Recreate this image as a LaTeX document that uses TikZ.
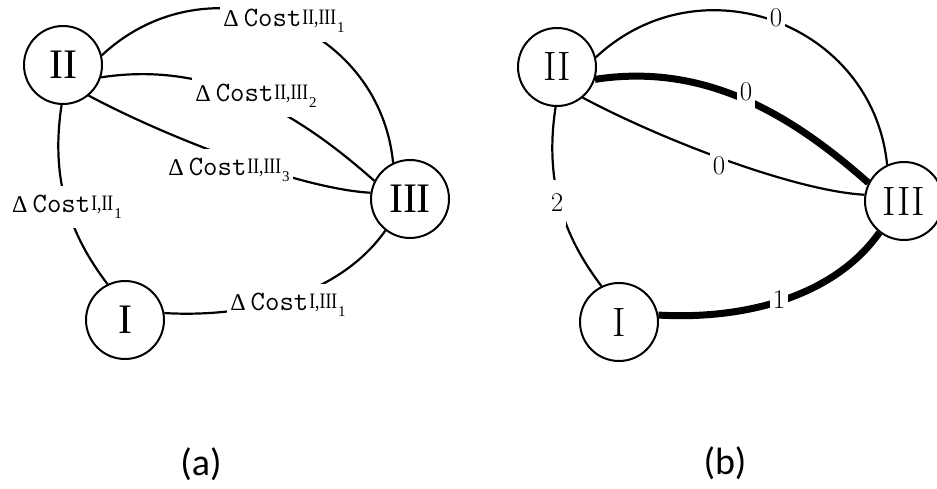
\documentclass[tikz,border=0pt]{standalone}
\usepackage{fontspec}
\usepackage{graphicx}
\newfontfamily\timesfont{Liberation Serif}
\newfontfamily\capfont{Carlito}

% Delta Cost label: superscript pair of vertices, subscript edge index
\newcommand\dcost[2]{%
  {\timesfont\fontsize{24}{24}\selectfont Δ}\hspace{5pt}%
  {\ttfamily\fontsize{28}{28}\selectfont Cost}\hspace{1pt}%
  \raisebox{2pt}{\timesfont\fontsize{22}{22}\selectfont\scalebox{0.8}[1]{#1}}\hspace{1pt}%
  \raisebox{-6pt}{\timesfont\fontsize{15}{15}\selectfont #2}}

\tikzset{
  vtx/.style={circle, draw, line width=2pt, minimum size=78pt, inner sep=0pt},
  vtxa/.style={vtx, font=\timesfont\fontsize{42}{42}\selectfont},
  vtxb/.style={vtx, font=\fontsize{41}{41}\selectfont},
  thinedge/.style={line width=2.2pt},
  thickedge/.style={line width=7pt},
  costlbl/.style={fill=white, inner xsep=3pt, inner ysep=9pt},
  numlbl/.style={fill=white, inner xsep=3pt, inner ysep=14pt, font=\fontsize{27}{27}\selectfont},
  caption/.style={font=\capfont\fontsize{38}{38}\selectfont, inner sep=0pt}
}

\begin{document}
\begin{tikzpicture}[x=1pt, y=-1pt]
\useasboundingbox (0,0) rectangle (937,489);

% ---------- (a) cost graph ----------
\node[vtxa] (aII)  at (63,65)   {II};
\node[vtxa] (aIII) at (410,199) {III};
\node[vtxa] (aI)   at (125,320) {I};

\draw[thinedge] (aII.14)  .. controls (207,-43) and (379,22)  .. (aIII.115);
\draw[thinedge] (aII.-18) .. controls (213,60)  and (300,115) .. (aIII.153);
\draw[thinedge] (aII.-50) .. controls (170,139) and (302,189) .. (aIII.171);
\draw[thinedge] (aII.-92) .. controls (50,180)  and (70,235)  .. (aI.116);
\draw[thinedge] (aI.10)   .. controls (250,318) and (340,295) .. (aIII.-128);

\node[costlbl] (ac1) at (284,21)  {\dcost{II,III}{1}};
\node[costlbl] (ac2) at (256,96)  {\dcost{II,III}{2}};
\node[costlbl] (ac3) at (229,170) {\dcost{II,III}{3}};
\node[costlbl] (ac4) at (288,305) {\dcost{I,III}{1}};
\node[costlbl] (ac5) at (67,207)  {\dcost{I,II}{1}};

\node[caption] (capa) at (201,464) {(a)};

% ---------- (b) weighted graph ----------
\begin{scope}[xshift=494pt, yshift=-2pt]
\node[vtxb] (bII)  at (63,65)   {II};
\node[vtxb] (bIII) at (410,199) {III};
\node[vtxb] (bI)   at (125,320) {I};

\draw[thinedge]  (bII.14)  .. controls (207,-43) and (379,22)  .. (bIII.115);
\draw[thickedge] (bII.-18) .. controls (213,60)  and (300,115) .. (bIII.153);
\draw[thinedge]  (bII.-50) .. controls (170,139) and (302,189) .. (bIII.171);
\draw[thinedge]  (bII.-92) .. controls (50,180)  and (70,235)  .. (bI.116);
\draw[thickedge] (bI.10)   .. controls (250,318) and (340,295) .. (bIII.-128);

\node[numlbl] (bw1) at (282,16)  {0};
\node[numlbl] (bw2) at (252,90)  {0};
\node[numlbl] (bw3) at (225,164) {0};
\node[numlbl] (bw4) at (63,201)  {2};
\node[numlbl] (bw5) at (285,298) {1};
\end{scope}

\node[caption] (capb) at (725,463) {(b)};
\end{tikzpicture}
\end{document}
